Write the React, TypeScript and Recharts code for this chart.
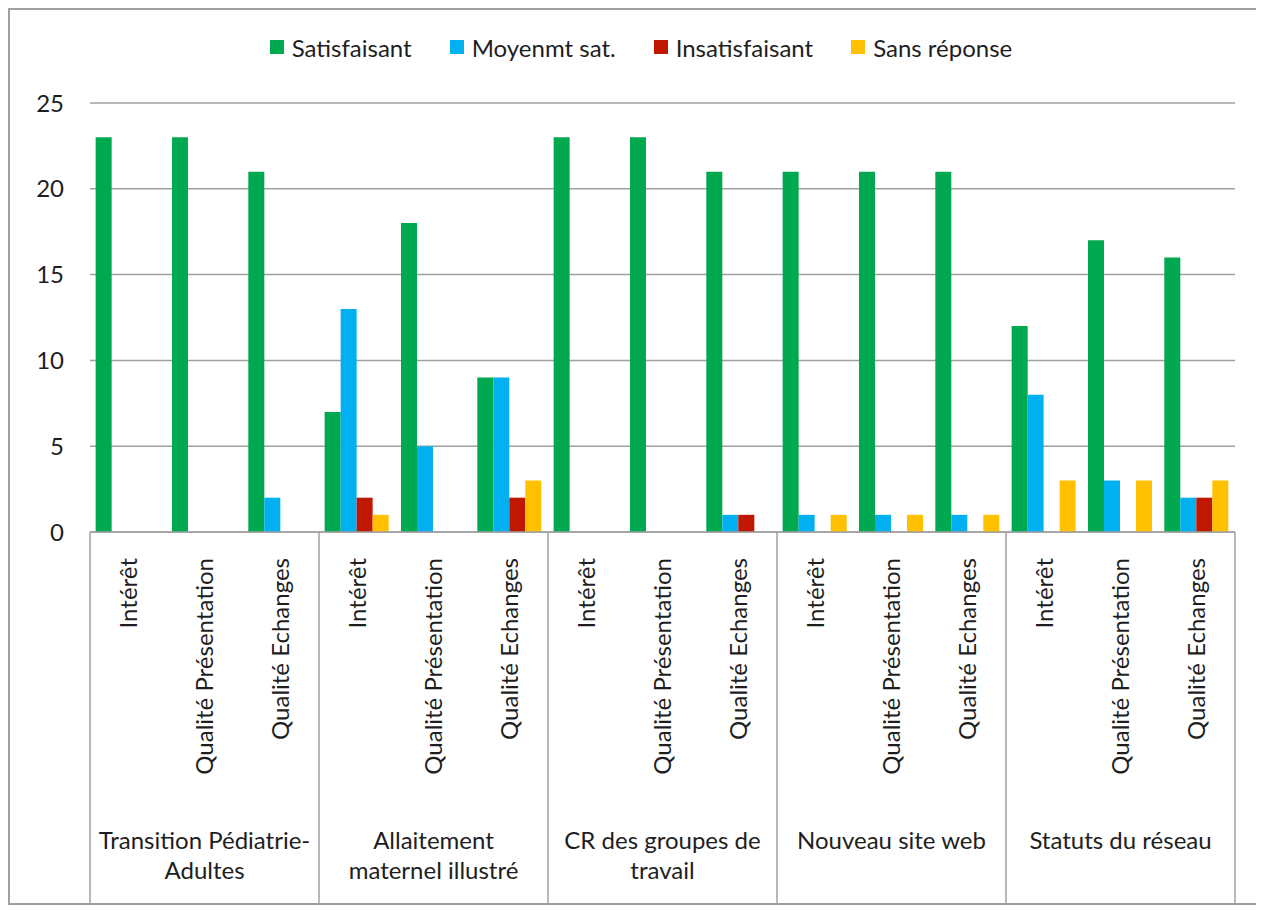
import React from 'react';
import { BarChart, Bar, XAxis, YAxis, CartesianGrid, Legend } from 'recharts';

// group labels, already split on the lines Excel wrapped them to
const GROUPS = [
  ['Transition Pédiatrie-', 'Adultes'],
  ['Allaitement', 'maternel illustré'],
  ['CR des groupes de', 'travail'],
  ['Nouveau site web'],
  ['Statuts du réseau'],
];
const CRITERIA = ['Intérêt', 'Qualité Présentation', 'Qualité Echanges'];

const SATISFAISANT = [23, 23, 21, 7, 18, 9, 23, 23, 21, 21, 21, 21, 12, 17, 16];
const MOYENNEMENT = [0, 0, 2, 13, 5, 9, 0, 0, 1, 1, 1, 1, 8, 3, 2];
const INSATISFAISANT = [0, 0, 0, 2, 0, 2, 0, 0, 1, 0, 0, 0, 0, 0, 2];
const SANS_REPONSE = [0, 0, 0, 1, 0, 3, 0, 0, 0, 1, 1, 1, 3, 3, 3];
const Y_TICKS = [0, 5, 10, 15, 20, 25];

const SERIES = [
  { key: 'sat', name: 'Satisfaisant', color: '#00A850' },
  { key: 'moy', name: 'Moyenmt sat.', color: '#00B0F0' },
  { key: 'ins', name: 'Insatisfaisant', color: '#C01800' },
  { key: 'sr', name: 'Sans réponse', color: '#FFC000' },
];

const data = SATISFAISANT.map((v, i) => ({
  id: `c${i}`,
  criterion: CRITERIA[i % 3],
  group: Math.floor(i / 3),
  sat: v,
  moy: MOYENNEMENT[i],
  ins: INSATISFAISANT[i],
  sr: SANS_REPONSE[i],
}));

const FONT = 'Lato, "Open Sans", sans-serif';
const TEXT = '#1e1e1e';
const LINE = '#a0a0a0';
const FS = 24;

const CHART_W = 1246;
const CHART_H = 893;
const MARGIN = { top: 25, right: 21, bottom: 0, left: 0 };
const Y_AXIS_W = 80;
const X_AXIS_H = 371;
const BAND = (CHART_W - MARGIN.left - MARGIN.right - Y_AXIS_W) / data.length;

const CategoryTick = (props: any) => {
  const { x, y, index } = props;
  const row = data[index];
  const pos = index % 3;
  const left = x - BAND / 2;
  const right = x + BAND / 2;
  return (
    <g>
      <text
        transform={`translate(${x}, ${y + 26}) rotate(-90)`}
        textAnchor="end"
        dy="0.36em"
        fontSize={FS}
        fontFamily={FONT}
        fill={TEXT}
      >
        {row.criterion}
      </text>
      {pos === 0 && <line x1={left} x2={left} y1={y} y2={y + X_AXIS_H} stroke={LINE} strokeWidth={1.5} />}
      {index === data.length - 1 && (
        <line x1={right} x2={right} y1={y} y2={y + X_AXIS_H} stroke={LINE} strokeWidth={1.5} />
      )}
      {pos === 1 &&
        GROUPS[row.group].map((ln, k) => (
          <text
            key={k}
            x={x}
            y={y + 308 + k * 30}
            dy="0.36em"
            textAnchor="middle"
            fontSize={FS}
            fontFamily={FONT}
            fill={TEXT}
          >
            {ln}
          </text>
        ))}
    </g>
  );
};

const LegendContent = () => (
  <div
    style={{
      height: 68,
      display: 'flex',
      justifyContent: 'center',
      alignItems: 'flex-start',
      paddingLeft: 75,
      fontFamily: FONT,
      fontSize: FS,
      color: TEXT,
    }}
  >
    {SERIES.map((s) => (
      <div key={s.key} style={{ display: 'flex', alignItems: 'center', marginRight: 38, height: 24 }}>
        <span style={{ width: 14, height: 14, background: s.color, marginRight: 8, display: 'inline-block' }} />
        <span>{s.name}</span>
      </div>
    ))}
  </div>
);

export default function App() {
  return (
    <div
      style={{
        width: 1250,
        height: 897,
        boxSizing: 'border-box',
        border: `2px solid ${LINE}`,
        background: '#fff',
      }}
    >
      <BarChart
        width={CHART_W}
        height={CHART_H}
        data={data}
        margin={MARGIN}
        barCategoryGap="7.4%"
        barGap={0}
      >
        <CartesianGrid vertical={false} stroke={LINE} strokeWidth={1.5} />
        <XAxis
          dataKey="id"
          interval={0}
          height={X_AXIS_H}
          axisLine={{ stroke: LINE, strokeWidth: 1.5 }}
          tickLine={false}
          tickSize={0}
          tickMargin={0}
          tick={<CategoryTick />}
        />
        <YAxis
          domain={[0, 25]}
          ticks={Y_TICKS}
          width={Y_AXIS_W}
          axisLine={false}
          tickLine={false}
          tickSize={6}
          tickMargin={20}
          tick={{ fontSize: FS, fontFamily: FONT, fill: TEXT }}
        />
        <Legend verticalAlign="top" content={<LegendContent />} />
        {SERIES.map((s) => (
          <Bar key={s.key} dataKey={s.key} name={s.name} fill={s.color} isAnimationActive={false} />
        ))}
      </BarChart>
    </div>
  );
}
